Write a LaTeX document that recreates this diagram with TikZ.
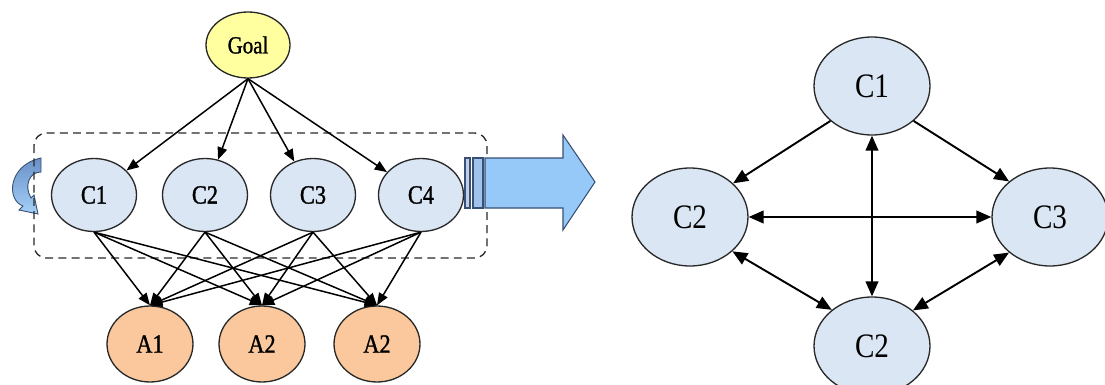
\documentclass[tikz,border=0pt]{standalone}
\usepackage{fontspec}
\setmainfont{Liberation Serif}[FakeStretch=0.85]
\newfontfamily\heavyserif{Liberation Serif}[FakeStretch=0.85,FakeBold=1.2]
\usetikzlibrary{shapes.geometric,arrows.meta}
\definecolor{cfill}{RGB}{218,230,244}
\definecolor{gfill}{RGB}{255,255,160}
\definecolor{afill}{RGB}{250,200,156}
\definecolor{edgec}{RGB}{40,40,40}
\definecolor{barrow}{RGB}{150,200,248}
\definecolor{barrowdk}{RGB}{55,80,115}
\definecolor{barone}{RGB}{190,205,232}
\definecolor{bartwo}{RGB}{160,195,235}
\definecolor{carrowtop}{RGB}{105,145,200}
\definecolor{carrowbot}{RGB}{165,208,248}
\begin{document}
\begin{tikzpicture}[x=0.02cm,y=-0.02cm,
  ell/.style={ellipse,draw=edgec,line width=0.75pt,inner sep=0pt},
  lc/.style={ell,fill=cfill,minimum width=1.70cm,minimum height=1.46cm,font=\heavyserif\fontsize{15}{16}\selectfont},
  goalnode/.style={ell,fill=gfill,minimum width=1.68cm,minimum height=1.32cm,font=\heavyserif\fontsize{14}{15}\selectfont},
  alt/.style={ell,fill=afill,minimum width=1.72cm,minimum height=1.52cm,font=\heavyserif\fontsize{15}{16}\selectfont},
  rc/.style={ell,fill=cfill,minimum width=2.32cm,minimum height=1.96cm,font=\fontsize{19.5}{21}\selectfont},
  larr/.style={line width=0.85pt,draw=black,-{Triangle[length=7pt,width=5.5pt]}},
  rarr/.style={line width=1.1pt,draw=black,-{Triangle[length=8.5pt,width=7.2pt]}},
  rbarr/.style={line width=1.1pt,draw=black,{Triangle[length=8.5pt,width=7.2pt]}-{Triangle[length=8.5pt,width=7.2pt]}}
]
\useasboundingbox (0,0) rectangle (1105,385);
\fill[white] (0,0) rectangle (1105,385);

% curved arrow at left
\shade[top color=carrowtop,bottom color=carrowbot,draw=barrowdk,line width=0.5pt]
  (41,158) -- (41,172) .. controls (29,172) and (24,186) .. (31,198)
  -- (34,195) -- (38,214) -- (19,210) -- (23,206)
  .. controls (6,200) and (8,165) .. (41,158) -- cycle;

% dashed group box
\draw[dashed,dash pattern=on 4.5pt off 3pt,line width=0.75pt,draw=edgec,rounded corners=7pt]
  (34,133) rectangle (487,258);

% left hierarchy
\node[goalnode] (goal) at (248,45) {Goal};
\node[lc] (c1) at (94,195) {C1};
\node[lc] (c2) at (205,195) {C2};
\node[lc] (c3) at (313,195) {C3};
\node[lc] (c4) at (421,195) {C4};
\node[alt] (a1) at (150,344) {A1};
\node[alt] (a2) at (262,344) {A2};
\node[alt] (a3) at (377,344) {A2};

\foreach \c in {c1,c2,c3,c4} \draw[larr] (goal.south) -- (\c);
\foreach \c in {c1,c2,c3,c4} \foreach \a in {a1,a2,a3} \draw[larr] (\c.south) -- (\a.north);

% big arrow
\draw[draw=barrowdk,line width=0.6pt,fill=barone] (465,158) rectangle (470,208);
\draw[draw=barrowdk,line width=0.6pt,fill=bartwo] (473,158) rectangle (483,208);
\draw[draw=barrowdk,line width=0.6pt,fill=barrow]
  (485,158) -- (563,158) -- (563,135) -- (595,182) -- (563,230) -- (563,208) -- (485,208) -- cycle;

% right graph
\node[rc] (r1) at (872,86) {C1};
\node[rc] (r2) at (690,217) {C2};
\node[rc] (r3) at (1050,217) {C3};
\node[rc] (r4) at (872,346) {C2};

\draw[rarr] (r1.220) -- (r2.38);
\draw[rarr] (r1.320) -- (r3.139);
\draw[rbarr] (r1.south) -- (r4.north);
\draw[rbarr] (r2.east) -- (r3.west);
\draw[rbarr] (r2.321) -- (r4.138);
\draw[rbarr] (r3.221) -- (r4.41);
\end{tikzpicture}
\end{document}
